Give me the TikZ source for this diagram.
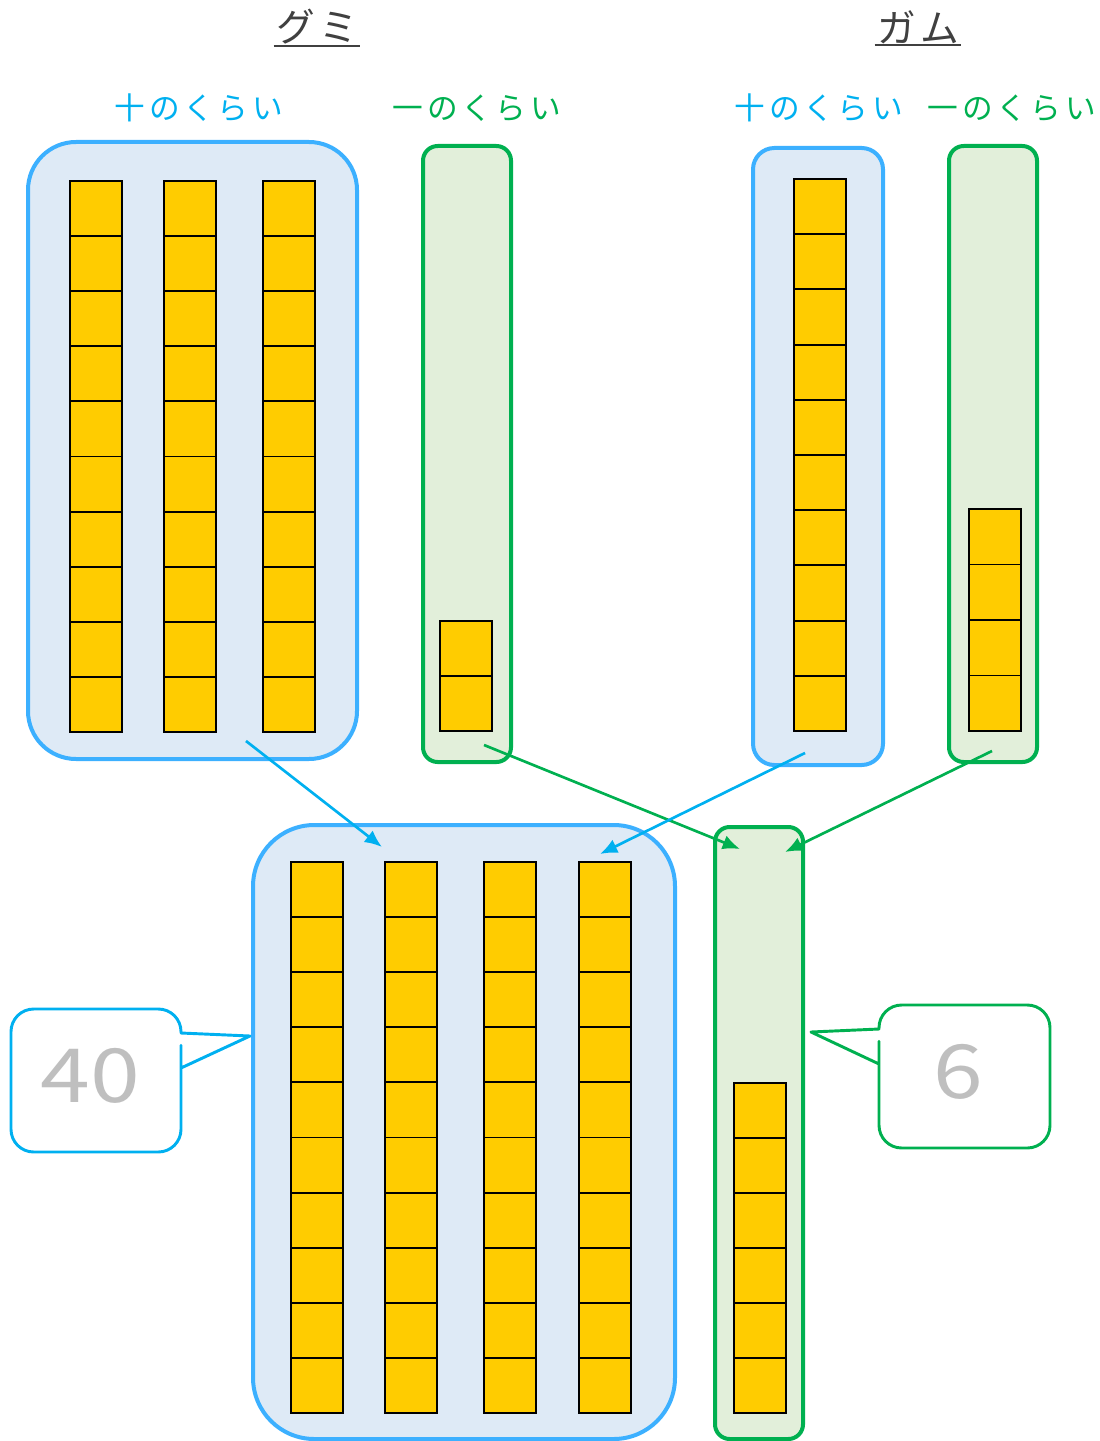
\documentclass[tikz,border=0pt]{standalone}
\usepackage{fontspec}
\setmainfont{Noto Sans CJK JP}
\newfontfamily\jplabel[LetterSpace=12]{Noto Sans CJK JP}
\usetikzlibrary{arrows.meta}

\definecolor{tenline}{HTML}{3CB0FF}
\definecolor{tenfill}{HTML}{DEEAF6}
\definecolor{tenarrow}{HTML}{00B0F0}
\definecolor{oneline}{HTML}{00B050}
\definecolor{onefill}{HTML}{E2EFDA}
\definecolor{cubeyellow}{HTML}{FFCC00}
\definecolor{numgray}{HTML}{BFBFBF}
\definecolor{titlegray}{HTML}{404040}

\tikzset{
  tenbox/.style={draw=tenline, fill=tenfill, line width=3pt},
  onebox/.style={draw=oneline, fill=onefill, line width=3pt},
  cubebox/.style={draw=black, fill=cubeyellow, line width=1.4pt},
  titletext/.style={text=titlegray, font=\jplabel\fontsize{29}{32}\selectfont,
    inner xsep=0pt, inner ysep=1pt, minimum width=64.5pt},
  placetext/.style={font=\jplabel\fontsize{23}{26}\selectfont, inner sep=0pt},
  tenmove/.style={draw=tenarrow, line width=2pt, -{Latex[length=13pt,width=11pt]}},
  onemove/.style={draw=oneline, line width=2pt, -{Latex[length=13pt,width=11pt]}},
  numtext/.style={text=numgray, font=\fontsize{56}{60}\selectfont, inner sep=0pt}
}

\begin{document}
\begin{tikzpicture}[x=0.75pt, y=-0.75pt]
\useasboundingbox (0,0) rectangle (1099,1441);

% titles
\node[titletext] (gumi) at (317,27) {グミ};
\node[titletext] (gamu) at (918,27) {ガム};
\draw[titlegray, line width=1.6pt] (gumi.south west) -- (gumi.south east);
\draw[titlegray, line width=1.6pt] (gamu.south west) -- (gamu.south east);

\node[placetext, text=tenarrow] (gumiten) at (199,108) {十のくらい};
\node[placetext, text=oneline] (gumione) at (477,108) {一のくらい};
\node[placetext, text=tenarrow] (gamuten) at (819,108) {十のくらい};
\node[placetext, text=oneline] (gamuone) at (1012,108) {一のくらい};

% place boxes
\draw[tenbox, rounded corners=36pt] (28,142) rectangle (357,759);
\draw[onebox, rounded corners=11pt] (423,146) rectangle (511,762);
\draw[tenbox, rounded corners=16pt] (753,148) rectangle (883,765);
\draw[onebox, rounded corners=11pt] (949,146) rectangle (1037,762);
\draw[tenbox, rounded corners=46pt] (253,825) rectangle (675,1439);
\draw[onebox, rounded corners=11pt] (715,827) rectangle (803,1439);

% cubes, stacked up from the bottom
\foreach \x in {70,164,263}
  \foreach \i in {1,...,10}
    \draw[cubebox] (\x,732-55.1*\i) rectangle ++(52,55.1);
\foreach \i in {1,2}
  \draw[cubebox] (440,731-55.1*\i) rectangle ++(52,55.1);
\foreach \i in {1,...,10}
  \draw[cubebox] (794,731-55.2*\i) rectangle ++(52,55.2);
\foreach \i in {1,...,4}
  \draw[cubebox] (969,731-55.5*\i) rectangle ++(52,55.5);
\foreach \x in {291,385,484,579}
  \foreach \i in {1,...,10}
    \draw[cubebox] (\x,1413-55.1*\i) rectangle ++(52,55.1);
\foreach \i in {1,...,6}
  \draw[cubebox] (734,1413-55*\i) rectangle ++(52,55);

% arrows into the sum
\coordinate (gumitenout) at (246,741);
\coordinate (gumioneout) at (484,745);
\coordinate (gamutenout) at (805,753);
\coordinate (gamuoneout) at (992,751);
\coordinate (sumtenA) at (382,847);
\coordinate (sumtenB) at (600,854);
\coordinate (sumoneA) at (740,849);
\coordinate (sumoneB) at (785,852);
\draw[tenmove] (gumitenout) -- (sumtenA);
\draw[onemove] (gumioneout) -- (sumoneA);
\draw[tenmove] (gamutenout) -- (sumtenB);
\draw[onemove] (gamuoneout) -- (sumoneB);

% callouts
\draw[draw=tenarrow, fill=white, line width=2.2pt, line join=round]
  (181,1068) -- (250,1036) -- (181,1033) [rounded corners=17pt] -- (181,1009)
  -- (11,1009) -- (11,1152) -- (181,1152) -- (181,1068) [sharp corners] -- cycle;
\node[numtext] (tens) at (90,1076) {\scalebox{1.2}[1]{40}};
\draw[draw=oneline, fill=white, line width=2.2pt, line join=round]
  (879,1064) -- (811,1032) -- (879,1029) [rounded corners=17pt] -- (879,1005)
  -- (1050,1005) -- (1050,1148) -- (879,1148) -- (879,1064) [sharp corners] -- cycle;
\node[numtext] (ones) at (958,1072) {\scalebox{1.2}[1]{6}};
\end{tikzpicture}
\end{document}
